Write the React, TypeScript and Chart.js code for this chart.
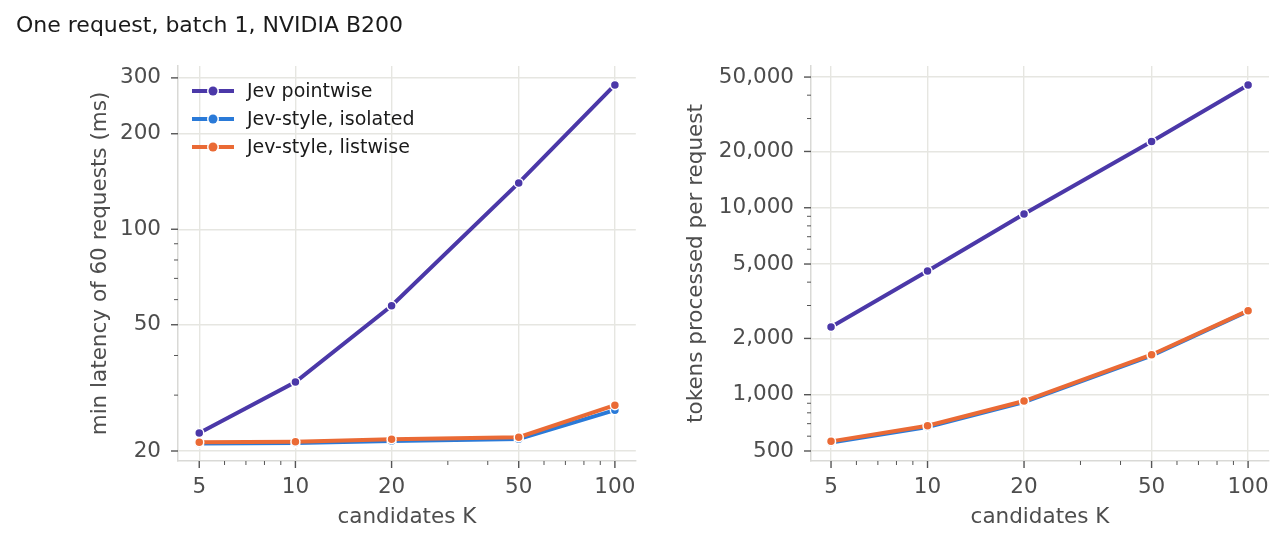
import { useEffect, useRef } from 'react'
import { Chart, registerables } from 'chart.js'

Chart.register(...registerables)

// candidates K on the x axis
const kValues = [5, 10, 20, 50, 100]

// min latency of 60 requests (ms)
const latencyPointwise = [22.8, 33.0, 57.4, 140, 285]
const latencyIsolated = [21.1, 21.2, 21.5, 21.8, 26.9]
const latencyListwise = [21.3, 21.4, 21.8, 22.1, 27.9]

// tokens processed per request
const tokensPointwise = [2305, 4585, 9260, 22600, 45300]
const tokensIsolated = [555, 672, 912, 1620, 2800]
const tokensListwise = [563, 682, 925, 1636, 2816]

const latencyTicks = [20, 50, 100, 200, 300]
const tokenTicks = [500, 1000, 2000, 5000, 10000, 20000, 50000]

const seriesLabels = ['Jev pointwise', 'Jev-style, isolated', 'Jev-style, listwise']
const seriesColors = ['#4b38a8', '#2a7ad8', '#ea6a35']

const FONT = 'DejaVu Sans'
const GRID = '#e6e6e1'
const TEXT = '#4d4d4d'
const AXIS_FONT = 21.5

// log minor ticks: 1..9 x 10^k, minus the majors
function minorTicks(majors, min, max) {
  const out = []
  for (let e = -1; e < 6; e++) {
    for (let m = 1; m < 10; m++) {
      const v = m * Math.pow(10, e)
      if (v > min && v < max && !majors.includes(v)) out.push(v)
    }
  }
  return out
}

const tickMarks = {
  id: 'tickMarks',
  afterDraw(chart, args, opts) {
    const { ctx, chartArea } = chart
    const xs = chart.scales.x
    const ys = chart.scales.y
    ctx.save()
    ctx.strokeStyle = '#555'
    const draw = (vals, len, w, axis) => {
      ctx.lineWidth = w
      vals.forEach(v => {
        ctx.beginPath()
        if (axis === 'x') {
          const p = xs.getPixelForValue(v)
          ctx.moveTo(p, chartArea.bottom)
          ctx.lineTo(p, chartArea.bottom + len)
        } else {
          const p = ys.getPixelForValue(v)
          ctx.moveTo(chartArea.left, p)
          ctx.lineTo(chartArea.left - len, p)
        }
        ctx.stroke()
      })
    }
    draw(opts.xMajor, 7, 1.4, 'x')
    draw(minorTicks(opts.xMajor, xs.min, xs.max), 4, 1, 'x')
    draw(opts.yMajor, 7, 1.4, 'y')
    draw(minorTicks(opts.yMajor, ys.min, ys.max), 4, 1, 'y')
    ctx.restore()
  },
}

const legendAndTitle = {
  id: 'legendAndTitle',
  afterDraw(chart, args, opts) {
    if (!opts.show) return
    const { ctx, chartArea } = chart
    ctx.save()
    ctx.fillStyle = '#1a1a1a'
    ctx.font = `22px "${FONT}"`
    ctx.textBaseline = 'alphabetic'
    ctx.fillText('One request, batch 1, NVIDIA B200', 16, 32)
    chart.data.datasets.forEach((ds, i) => {
      const y = chartArea.top + 25 + i * 28
      const x0 = chartArea.left + 14
      ctx.strokeStyle = ds.borderColor
      ctx.lineWidth = 4
      ctx.beginPath()
      ctx.moveTo(x0, y)
      ctx.lineTo(x0 + 42, y)
      ctx.stroke()
      ctx.beginPath()
      ctx.arc(x0 + 21, y, 6, 0, Math.PI * 2)
      ctx.fillStyle = '#fff'
      ctx.fill()
      ctx.beginPath()
      ctx.arc(x0 + 21, y, 4.5, 0, Math.PI * 2)
      ctx.fillStyle = ds.borderColor
      ctx.fill()
      ctx.fillStyle = '#1a1a1a'
      ctx.font = `19px "${FONT}"`
      ctx.textBaseline = 'middle'
      ctx.fillText(ds.label, x0 + 55, y + 1)
    })
    ctx.restore()
  },
}

function makeDatasets(series) {
  return series.map((data, i) => ({
    label: seriesLabels[i],
    data: data.map((v, j) => ({ x: kValues[j], y: v })),
    borderColor: seriesColors[i],
    backgroundColor: seriesColors[i],
    borderWidth: 4,
    pointRadius: 4.5,
    pointBorderWidth: 1.5,
    pointBorderColor: '#ffffff',
    pointBackgroundColor: seriesColors[i],
    order: 2 - i,
  }))
}

function buildConfig(opts) {
  const { series, yTicks, yMin, yMax, xMin, xMax, yTitle, yFormat, pad, yTitlePad, showLegend } = opts
  return {
    type: 'line',
    data: { labels: kValues, datasets: makeDatasets(series) },
    options: {
      animation: false,
      responsive: false,
      layout: { padding: pad },
      plugins: {
        legend: { display: false },
        tooltip: { enabled: false },
        tickMarks: { xMajor: kValues, yMajor: yTicks },
        legendAndTitle: { show: showLegend },
      },
      scales: {
        x: {
          type: 'logarithmic',
          min: xMin,
          max: xMax,
          afterBuildTicks: s => { s.ticks = kValues.map(v => ({ value: v })) },
          afterFit: s => { s.height = 85 },
          ticks: {
            callback: v => String(v),
            autoSkip: false,
            maxRotation: 0,
            padding: 14,
            color: TEXT,
            font: { family: FONT, size: AXIS_FONT },
          },
          grid: { color: GRID, lineWidth: 1.4, drawTicks: false },
          border: { color: '#d9d9d6', width: 1.5 },
          title: {
            display: true,
            text: 'candidates K',
            color: TEXT,
            font: { family: FONT, size: AXIS_FONT },
            padding: { top: 0, bottom: 16 },
          },
        },
        y: {
          type: 'logarithmic',
          min: yMin,
          max: yMax,
          afterBuildTicks: s => { s.ticks = yTicks.map(v => ({ value: v })) },
          afterFit: s => { s.width = opts.yWidth },
          ticks: {
            callback: yFormat,
            autoSkip: false,
            padding: 17,
            color: TEXT,
            font: { family: FONT, size: AXIS_FONT },
          },
          grid: { color: GRID, lineWidth: 1.4, drawTicks: false },
          border: { color: '#d9d9d6', width: 1.5 },
          title: {
            display: true,
            text: yTitle,
            color: TEXT,
            font: { family: FONT, size: AXIS_FONT },
            padding: { top: yTitlePad, bottom: 0 },
          },
        },
      },
    },
    plugins: [tickMarks, legendAndTitle],
  }
}

function LogChart({ config, width, left }) {
  const ref = useRef(null)
  useEffect(() => {
    const chart = new Chart(ref.current.getContext('2d'), config)
    return () => chart.destroy()
  }, [config])
  return (
    <canvas
      ref={ref}
      width={width}
      height={546}
      style={{ position: 'absolute', left, top: 0, width, height: 546 }}
    />
  )
}

const leftConfig = buildConfig({
  series: [latencyPointwise, latencyIsolated, latencyListwise],
  yTicks: latencyTicks,
  yMin: 18.6,
  yMax: 327,
  xMin: 4.29,
  xMax: 116.3,
  yTitle: 'min latency of 60 requests (ms)',
  yFormat: v => String(v),
  pad: { top: 66, right: 13, left: 0, bottom: 0 },
  yWidth: 178,
  yTitlePad: 88,
  showLegend: true,
})

const rightConfig = buildConfig({
  series: [tokensPointwise, tokensIsolated, tokensListwise],
  yTicks: tokenTicks,
  yMin: 442,
  yMax: 57300,
  xMin: 4.33,
  xMax: 116.2,
  yTitle: 'tokens processed per request',
  yFormat: v => Number(v).toLocaleString('en-US'),
  pad: { top: 66, right: 16, left: 0, bottom: 0 },
  yWidth: 161,
  yTitlePad: 34,
  showLegend: false,
})

export default function App() {
  return (
    <div style={{ position: 'absolute', left: 0, top: 0, width: 1285, height: 546, background: '#fff' }}>
      <LogChart config={leftConfig} width={650} left={0} />
      <LogChart config={rightConfig} width={635} left={650} />
    </div>
  )
}
